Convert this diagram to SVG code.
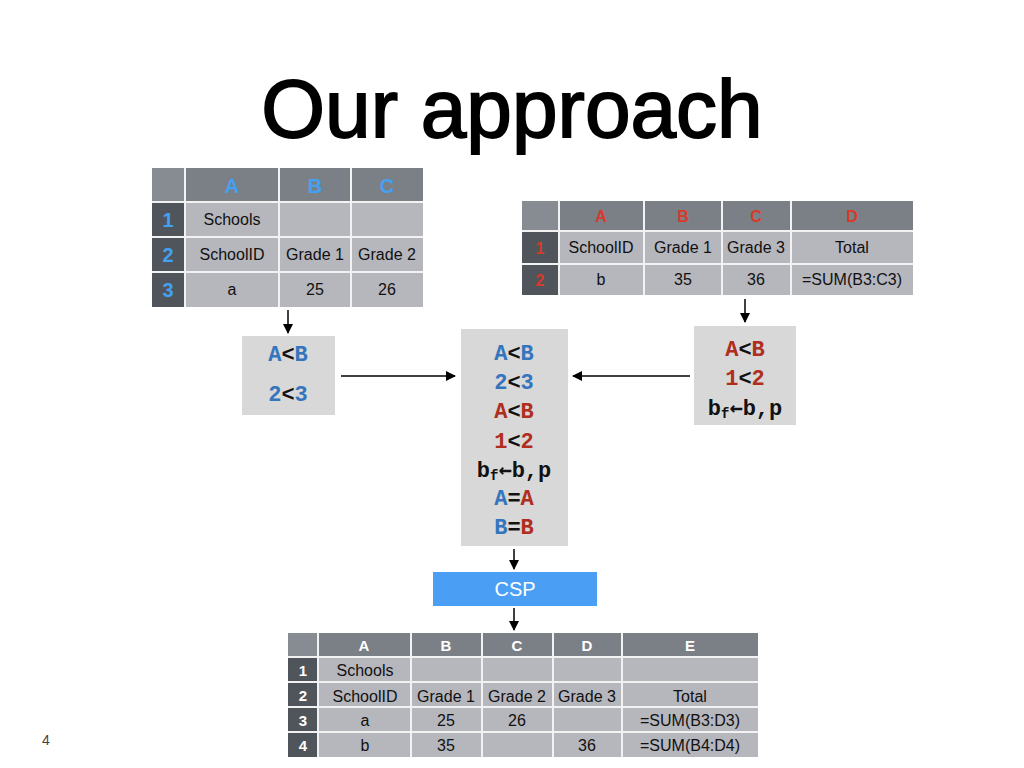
<svg xmlns="http://www.w3.org/2000/svg" width="1024" height="768" viewBox="0 0 1024 768">
<defs>
<marker id="ah" markerWidth="10" markerHeight="10" refX="9" refY="5" orient="auto" markerUnits="userSpaceOnUse">
<path d="M0,0 L10,5 L0,10 z" fill="#000"/>
</marker>
<style>
.data{fill:#b6b6bd}
.hdr{fill:#7b8087}
.corner{fill:#878c92}
.rh{fill:#50555b}
.grid{stroke:#f2f2f2;stroke-width:2;fill:none}
.t{font-family:"Liberation Sans",Arial,sans-serif;font-size:16px;fill:#111;text-anchor:middle}
.hb{font-family:"Liberation Sans",Arial,sans-serif;font-weight:bold;font-size:20px;fill:#44a0f2;text-anchor:middle}
.hr{font-family:"Liberation Sans",Arial,sans-serif;font-weight:bold;font-size:16px;fill:#d63a2c;text-anchor:middle}
.hw{font-family:"Liberation Sans",Arial,sans-serif;font-weight:bold;font-size:15px;fill:#fff;text-anchor:middle}
.cbox{fill:#d8d8d8}
.m{font-family:"Liberation Mono","Courier New","DejaVu Sans Mono",monospace;font-weight:bold;font-size:22px;text-anchor:middle;fill:#111}
.ar{font-family:"DejaVu Sans Mono",monospace;font-weight:bold}
.bl{fill:#3575bd}
.rd{fill:#b02e1e}
.conn{stroke:#000;stroke-width:1.5;fill:none;marker-end:url(#ah)}
</style>
</defs>
<rect width="1024" height="768" fill="#fff"/>
<text x="512" y="137" font-family="Liberation Sans,Arial,sans-serif" font-size="82" text-anchor="middle" fill="#000" stroke="#000" stroke-width="1.8">Our approach</text>
<text x="46" y="745" font-family="Liberation Sans,Arial,sans-serif" font-size="14" text-anchor="middle" fill="#444">4</text>

<g id="table1">
<rect x="152" y="168" width="271" height="139" class="data"/>
<rect x="152" y="168" width="271" height="34" class="hdr"/>
<rect x="152" y="202" width="33" height="105" class="rh"/>
<rect x="152" y="168" width="33" height="34" class="corner"/>
<path class="grid" d="M185,168V307M279,168V307M351,168V307M152,202H423M152,237H423M152,272H423"/>
<text x="232" y="193" class="hb">A</text>
<text x="315" y="193" class="hb">B</text>
<text x="387" y="193" class="hb">C</text>
<text x="168" y="227" class="hb">1</text>
<text x="168" y="262" class="hb">2</text>
<text x="168" y="297" class="hb">3</text>
<text x="232" y="225" class="t">Schools</text>
<text x="232" y="260" class="t">SchoolID</text>
<text x="315" y="260" class="t">Grade 1</text>
<text x="387" y="260" class="t">Grade 2</text>
<text x="232" y="295" class="t">a</text>
<text x="315" y="295" class="t">25</text>
<text x="387" y="295" class="t">26</text>
</g>

<g id="table2">
<rect x="522" y="201" width="391" height="94" class="data"/>
<rect x="522" y="201" width="391" height="30" class="hdr"/>
<rect x="522" y="231" width="37" height="64" class="rh"/>
<rect x="522" y="201" width="37" height="30" class="corner"/>
<path class="grid" d="M559,201V295M644,201V295M722,201V295M791,201V295M522,231H913M522,264H913"/>
<text x="601" y="222" class="hr">A</text>
<text x="683" y="222" class="hr">B</text>
<text x="756" y="222" class="hr">C</text>
<text x="852" y="222" class="hr">D</text>
<text x="540" y="254" class="hr">1</text>
<text x="540" y="286" class="hr">2</text>
<text x="601" y="253" class="t">SchoolID</text>
<text x="683" y="253" class="t">Grade 1</text>
<text x="756" y="253" class="t">Grade 3</text>
<text x="852" y="253" class="t">Total</text>
<text x="601" y="285" class="t">b</text>
<text x="683" y="285" class="t">35</text>
<text x="756" y="285" class="t">36</text>
<text x="852" y="285" class="t">=SUM(B3:C3)</text>
</g>

<g id="cons1">
<rect x="242" y="336" width="93" height="79" class="cbox"/>
<text x="288" y="361" class="m"><tspan class="bl">A</tspan>&lt;<tspan class="bl">B</tspan></text>
<text x="288" y="401" class="m"><tspan class="bl">2</tspan>&lt;<tspan class="bl">3</tspan></text>
</g>

<g id="merged">
<rect x="461" y="329" width="107" height="217" class="cbox"/>
<text x="514" y="360" class="m"><tspan class="bl">A</tspan>&lt;<tspan class="bl">B</tspan></text>
<text x="514" y="389" class="m"><tspan class="bl">2</tspan>&lt;<tspan class="bl">3</tspan></text>
<text x="514" y="418" class="m"><tspan class="rd">A</tspan>&lt;<tspan class="rd">B</tspan></text>
<text x="514" y="448" class="m"><tspan class="rd">1</tspan>&lt;<tspan class="rd">2</tspan></text>
<text x="514" y="477" class="m">b<tspan font-size="14" dy="3">f</tspan><tspan dy="-3" class="ar">←</tspan>b,p</text>
<text x="514" y="505" class="m"><tspan class="bl">A</tspan>=<tspan class="rd">A</tspan></text>
<text x="514" y="534" class="m"><tspan class="bl">B</tspan>=<tspan class="rd">B</tspan></text>
</g>

<g id="cons2">
<rect x="694" y="326" width="102" height="99" class="cbox"/>
<text x="745" y="356" class="m"><tspan class="rd">A</tspan>&lt;<tspan class="rd">B</tspan></text>
<text x="745" y="385" class="m"><tspan class="rd">1</tspan>&lt;<tspan class="rd">2</tspan></text>
<text x="745" y="415" class="m">b<tspan font-size="14" dy="3">f</tspan><tspan dy="-3" class="ar">←</tspan>b,p</text>
</g>

<g id="csp">
<rect x="433" y="572" width="164" height="34" fill="#4a9ff5"/>
<text x="515" y="596" font-family="Liberation Sans,Arial,sans-serif" font-size="20" fill="#fff" text-anchor="middle">CSP</text>
</g>

<g id="table3">
<rect x="288" y="633" width="470" height="124" class="data"/>
<rect x="288" y="633" width="470" height="24" class="hdr"/>
<rect x="288" y="657" width="30" height="100" class="rh"/>
<rect x="288" y="633" width="30" height="24" class="corner"/>
<path class="grid" d="M318,633V757M411,633V757M482,633V757M553,633V757M622,633V757M288,657H758M288,682H758M288,707H758M288,732H758"/>
<text x="364" y="651" class="hw">A</text>
<text x="446" y="651" class="hw">B</text>
<text x="517" y="651" class="hw">C</text>
<text x="587" y="651" class="hw">D</text>
<text x="690" y="651" class="hw">E</text>
<text x="303" y="676" class="hw">1</text>
<text x="303" y="701" class="hw">2</text>
<text x="303" y="726" class="hw">3</text>
<text x="303" y="751" class="hw">4</text>
<text x="365" y="676" class="t">Schools</text>
<text x="365" y="702" class="t">SchoolID</text>
<text x="446" y="702" class="t">Grade 1</text>
<text x="517" y="702" class="t">Grade 2</text>
<text x="587" y="702" class="t">Grade 3</text>
<text x="690" y="702" class="t">Total</text>
<text x="365" y="726" class="t">a</text>
<text x="446" y="726" class="t">25</text>
<text x="517" y="726" class="t">26</text>
<text x="690" y="726" class="t">=SUM(B3:D3)</text>
<text x="365" y="751" class="t">b</text>
<text x="446" y="751" class="t">35</text>
<text x="587" y="751" class="t">36</text>
<text x="690" y="751" class="t">=SUM(B4:D4)</text>
</g>

<g id="connectors">
<line x1="288" y1="310" x2="288" y2="333" class="conn"/>
<line x1="341" y1="376" x2="455" y2="376" class="conn"/>
<line x1="690" y1="376" x2="573" y2="376" class="conn"/>
<line x1="745" y1="299" x2="745" y2="322" class="conn"/>
<line x1="514" y1="549" x2="514" y2="569" class="conn"/>
<line x1="514" y1="608" x2="514" y2="630" class="conn"/>
</g>
</svg>
